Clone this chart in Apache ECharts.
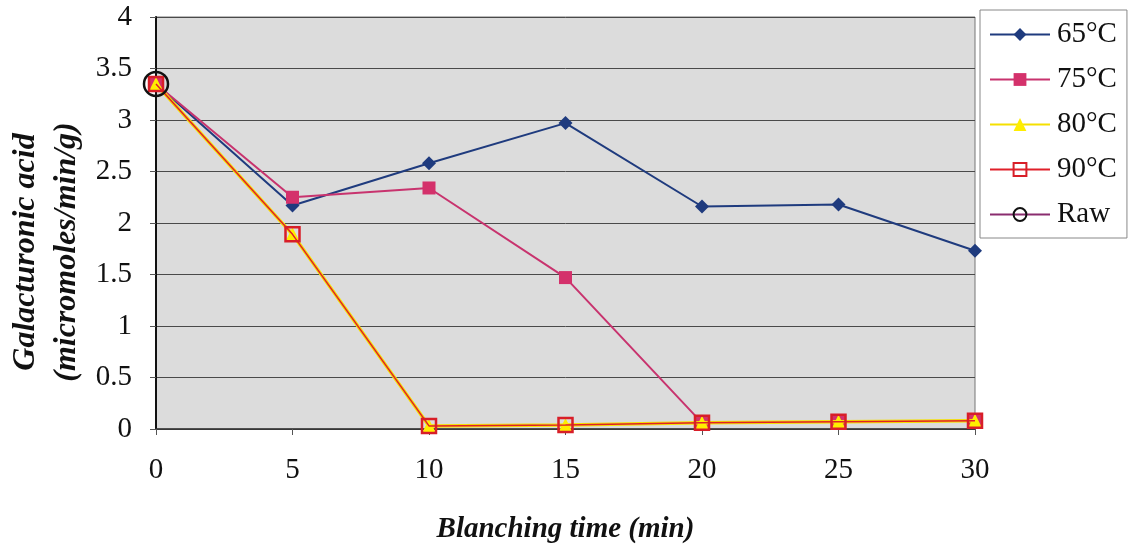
<!DOCTYPE html>
<html>
<head>
<meta charset="utf-8">
<script src="https://cdn.jsdelivr.net/npm/echarts@6/dist/echarts.min.js"></script>
<style>
  html, body { margin: 0; padding: 0; background: #fff; }
  #chart { width: 1134px; height: 549px; }
</style>
</head>
<body>
<div id="chart"></div>
<script>
// Blanching time in minutes
const times = [0, 5, 10, 15, 20, 25, 30];

// Galacturonic acid (micromoles/min/g) per blanching temperature
const t65 = [3.35, 2.17, 2.58, 2.97, 2.16, 2.18, 1.73];
const t75 = [3.35, 2.25, 2.34, 1.47, 0.06, 0.07, 0.08];
const t80 = [3.35, 1.89, 0.03, 0.04, 0.06, 0.07, 0.08];
const t90 = [3.35, 1.89, 0.03, 0.04, 0.06, 0.07, 0.08];
const raw = [3.35];

const yTicks = [0, 0.5, 1, 1.5, 2, 2.5, 3, 3.5, 4];

const FONT = 'Liberation Serif';

function pairs(vals) {
  return vals.map((v, i) => [times[i], v]);
}

const titleStyle = {
  fontFamily: FONT, fontSize: 32, fontStyle: 'italic', fontWeight: 'bold',
  fill: '#111', align: 'center', verticalAlign: 'middle'
};

const chart = echarts.init(document.getElementById('chart'));

chart.setOption({
  animation: false,
  backgroundColor: '#ffffff',
  grid: {
    left: 156, right: 159, top: 17, bottom: 114,
    show: true,
    backgroundColor: '#dcdcdc',
    borderColor: '#777777',
    borderWidth: 1
  },
  xAxis: {
    type: 'value',
    min: 0, max: 30, interval: 5,
    name: 'Blanching time (min)',
    nameLocation: 'middle',
    nameGap: 86,
    nameTextStyle: { fontFamily: FONT, fontSize: 29, fontStyle: 'italic', fontWeight: 'bold', color: '#111' },
    axisLine: { show: true, onZero: false, lineStyle: { color: '#333', width: 1.5 } },
    axisTick: { show: true, inside: false, length: 6, lineStyle: { color: '#555' } },
    axisLabel: { fontFamily: FONT, fontSize: 29, color: '#111', margin: 27 },
    splitLine: { show: false }
  },
  yAxis: {
    type: 'value',
    min: 0, max: 4, interval: 0.5,
    axisLine: { show: true, lineStyle: { color: '#111', width: 2 } },
    axisTick: { show: true, inside: false, length: 6, lineStyle: { color: '#555' } },
    axisLabel: {
      fontFamily: FONT, fontSize: 29, color: '#111', margin: 24,
      formatter: v => (yTicks.includes(v) ? String(v) : '')
    },
    splitLine: { show: true, lineStyle: { color: '#4a4a4a', width: 1 } }
  },
  legend: {
    orient: 'vertical',
    left: 980, top: 10,
    padding: [10, 10, 9, 9],
    itemWidth: 60, itemHeight: 16, itemGap: 16,
    borderColor: '#888', borderWidth: 1,
    backgroundColor: '#ffffff',
    textStyle: { fontFamily: FONT, fontSize: 29, color: '#111', lineHeight: 29, padding: [0, 0, 0, 2] },
    data: ['65°C', '75°C', '80°C', '90°C', 'Raw']
  },
  graphic: [
    {
      type: 'text', x: 26, y: 252, rotation: Math.PI / 2,
      style: Object.assign({ text: 'Galacturonic acid' }, titleStyle)
    },
    {
      type: 'text', x: 67, y: 252, rotation: Math.PI / 2,
      style: Object.assign({ text: '(micromoles/min/g)' }, titleStyle)
    }
  ],
  series: [
    {
      name: '65°C', type: 'line', data: pairs(t65), z: 3,
      symbol: 'diamond', symbolSize: 14,
      lineStyle: { color: '#1f3b7e', width: 2 },
      itemStyle: { color: '#1f3b7e' }
    },
    {
      name: '75°C', type: 'line', data: pairs(t75), z: 4,
      symbol: 'rect', symbolSize: 13,
      lineStyle: { color: '#c8336e', width: 2 },
      itemStyle: { color: '#d4316b' }
    },
    {
      name: '80°C', type: 'line', data: pairs(t80), z: 5,
      symbol: 'triangle', symbolSize: 14,
      lineStyle: { color: '#f5e000', width: 3.5 },
      itemStyle: { color: '#ffee00' }
    },
    {
      name: '90°C', type: 'line', data: pairs(t90), z: 6,
      symbol: 'rect', symbolSize: 14,
      lineStyle: { color: '#e0202a', width: 1.5 },
      itemStyle: { color: 'rgba(0,0,0,0)', borderColor: '#d81e28', borderWidth: 2.5 }
    },
    {
      name: 'Raw', type: 'line', data: pairs(raw), z: 7,
      symbol: 'circle', symbolSize: 24,
      lineStyle: { color: '#8a2c6f', width: 2 },
      itemStyle: { color: 'rgba(0,0,0,0)', borderColor: '#111', borderWidth: 2.5 }
    }
  ]
});
</script>
</body>
</html>
